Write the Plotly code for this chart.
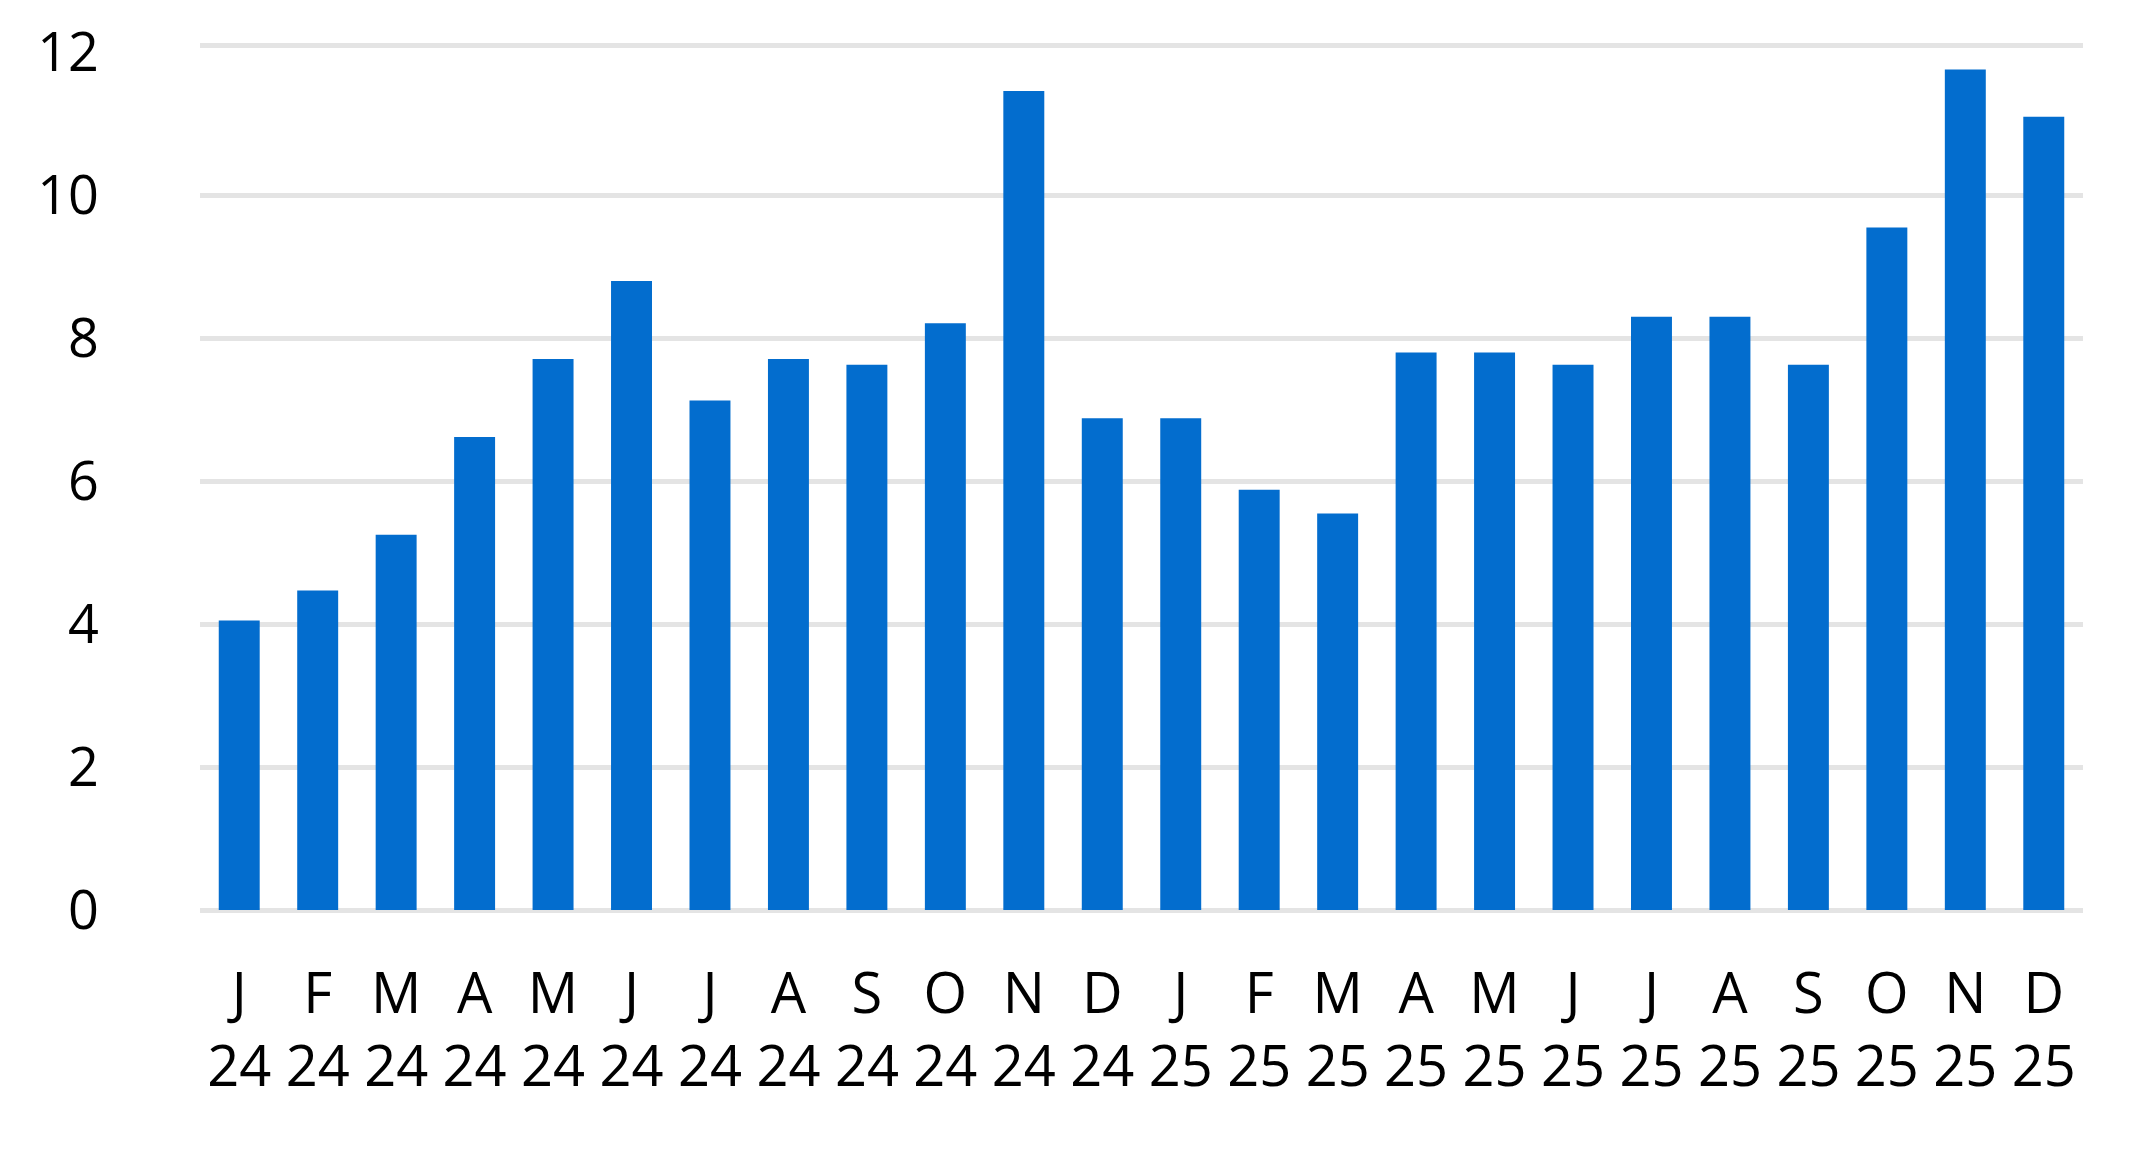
import plotly.graph_objects as go

months = ["J", "F", "M", "A", "M", "J", "J", "A", "S", "O", "N", "D",
          "J", "F", "M", "A", "M", "J", "J", "A", "S", "O", "N", "D"]
years = ["24"] * 12 + ["25"] * 12
values = [4.05, 4.47, 5.25, 6.62, 7.71, 8.80, 7.13, 7.71, 7.63, 8.21, 11.46, 6.88,
          6.88, 5.88, 5.55, 7.80, 7.80, 7.63, 8.30, 8.30, 7.63, 9.55, 11.76, 11.10]
y_ticks = [0, 2, 4, 6, 8, 10, 12]
grid_vals = [0, 2, 4, 6, 8, 10, 12.1]
y_range = [0, 12.16]

cats = list(range(len(values)))
tick_text = [f"{m}<br>{y}" for m, y in zip(months, years)]

fig = go.Figure()
fig.add_trace(go.Bar(x=cats, y=values, marker=dict(color="#036DCE", line=dict(width=0))))
fig.add_trace(go.Scatter(x=[], y=[], yaxis="y2", showlegend=False, hoverinfo="skip"))

GRID = "#E4E4E4"
fig.update_layout(
    width=2130, height=1152,
    margin=dict(l=200, r=47, t=41, b=242),
    plot_bgcolor="white", paper_bgcolor="white",
    bargap=0.478,
    showlegend=False,
    font=dict(family="Open Sans", size=54, color="#000000"),
    xaxis=dict(
        tickmode="array", tickvals=cats, ticktext=tick_text,
        showgrid=False, zeroline=False, showline=False,
        ticks="", ticklabelstandoff=46, tickfont=dict(size=56),
        range=[-0.5, len(values) - 0.5],
    ),
    yaxis=dict(
        range=y_range, tickmode="array", tickvals=y_ticks,
        showgrid=False, zeroline=False, showline=False,
        ticks="", ticklabelstandoff=100,
    ),
    yaxis2=dict(
        range=y_range, overlaying="y", anchor="x", side="left",
        tickmode="array", tickvals=grid_vals, showticklabels=False,
        showgrid=True, gridcolor=GRID, gridwidth=4.5,
        zeroline=True, zerolinecolor=GRID, zerolinewidth=4.5,
        showline=False, ticks="",
    ),
)

fig.write_html(
    "out.html",
    config={"displayModeBar": False},
    post_script="document.body.style.margin='0';document.body.style.overflow='hidden';",
)
